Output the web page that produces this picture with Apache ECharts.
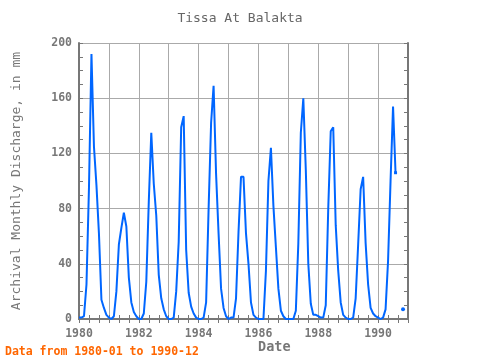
<!DOCTYPE html>
<html><head><meta charset="utf-8">
<script src="https://cdn.jsdelivr.net/npm/echarts@6/dist/echarts.min.js"></script>
<style>html,body{margin:0;padding:0;background:#fff}#c{width:480px;height:360px}</style>
</head><body><div id="c"></div>
<script>
const chartTitle = 'Tissa At Balakta';
const yAxisName = 'Archival Monthly Discharge, in mm';
const xAxisName = 'Date';
const footerText = 'Data from 1980-01 to 1990-12';

const years = [1980, 1981, 1982, 1983, 1984, 1985, 1986, 1987, 1988, 1989, 1990];
// monthly values Jan..Dec (null = missing)
const v1980 = [1, 1, 2, 25, 95, 192, 125, 97, 62, 14, 8, 3];
const v1981 = [1, 0, 2, 20, 54, 66, 77, 67, 30, 12, 5, 2];
const v1982 = [0, 0, 4, 27, 85, 135, 98, 75, 32, 15, 7, 2];
const v1983 = [0, 0, 1, 20, 56, 139, 147, 50, 19, 9, 4, 1];
const v1984 = [0, 0, 1, 12, 80, 142, 169, 105, 62, 22, 8, 2];
const v1985 = [0, 1, 1, 15, 63, 103, 103, 62, 40, 12, 3, 1];
const v1986 = [0, 0, 0, 35, 100, 124, 82, 52, 22, 6, 2, 0];
const v1987 = [0, 0, 0, 6, 55, 135, 160, 108, 40, 11, 3, 3];
const v1988 = [2, 1, 1, 10, 80, 136, 139, 68, 35, 12, 3, 1];
const v1989 = [0, 0, 1, 15, 54, 94, 103, 55, 25, 8, 4, 2];
const v1990 = [1, 0, 1, 7, 42, 100, 154, 106, null, null, 7, null];
const yearValues = [v1980, v1981, v1982, v1983, v1984, v1985, v1986, v1987, v1988, v1989, v1990];

const yTickValues = [0, 40, 80, 120, 160, 200];
const xLabelYears = [1980, 1982, 1984, 1986, 1988, 1990];

const flat = [];
years.forEach((yr, yi) => yearValues[yi].forEach((v, mi) => flat.push({ x: yr + mi / 12, v })));
const seriesData = flat.map((p, i) => {
  if (p.v == null) return [p.x, '-'];
  const prevNull = i === 0 ? false : flat[i - 1].v == null;
  const nextNull = i === flat.length - 1 ? true : flat[i + 1].v == null;
  if (prevNull && nextNull) {
    return { value: [p.x, p.v], symbol: 'circle', symbolSize: 4 };
  }
  if (nextNull && i > 0) {
    return { value: [p.x, p.v], symbol: 'rect', symbolSize: 3 };
  }
  return [p.x, p.v];
});

const FONT = 'DejaVu Sans Mono';
const frame = { show: true, lineStyle: { color: '#777', width: 2 } };
const tick = { show: true, inside: true, length: 4, lineStyle: { color: '#777', width: 1 } };
const minor = (n) => ({ show: true, splitNumber: n, length: 4, lineStyle: { color: '#777', width: 1 } });

const chart = echarts.init(document.getElementById('c'), null, { renderer: 'canvas' });
chart.setOption({
  animation: false,
  backgroundColor: '#fff',
  title: {
    text: chartTitle, left: 'center', top: 7,
    textStyle: { fontFamily: FONT, fontSize: 13, fontWeight: 'normal', color: '#666' }
  },
  grid: { left: 79, right: 72, top: 43, bottom: 41, outerBoundsMode: 'none', containLabel: false },
  xAxis: [{
    type: 'value', min: 1980, max: 1991, interval: 1, position: 'bottom',
    axisLine: frame, axisTick: tick, minorTick: minor(3),
    splitLine: { show: true, lineStyle: { color: '#aaa', width: 1 } },
    axisLabel: {
      margin: 9, color: '#777', fontFamily: FONT, fontSize: 11.5, fontWeight: 'bold',
      formatter: (v) => xLabelYears.includes(Math.round(v)) ? String(Math.round(v)) : ''
    }
  }, {
    type: 'value', min: 1980, max: 1991, interval: 1, position: 'top',
    axisLine: frame, axisTick: tick, minorTick: minor(3),
    splitLine: { show: false }, axisLabel: { show: false }
  }],
  yAxis: [{
    type: 'value', min: 0, max: 200, interval: 40, position: 'left',
    axisLine: frame, axisTick: tick, minorTick: minor(4),
    splitLine: { show: true, lineStyle: { color: '#aaa', width: 1 } },
    axisLabel: {
      margin: 7, color: '#777', fontFamily: FONT, fontSize: 11.5, fontWeight: 'bold',
      formatter: (v) => yTickValues.includes(v) ? String(v) : ''
    },
    name: yAxisName, nameLocation: 'middle', nameGap: 56, nameRotate: 90,
    nameTextStyle: { color: '#777', fontFamily: FONT, fontSize: 13, fontWeight: 'normal' }
  }, {
    type: 'value', min: 0, max: 200, interval: 40, position: 'right',
    axisLine: frame, axisTick: tick, minorTick: minor(4),
    splitLine: { show: false }, axisLabel: { show: false }
  }],
  graphic: [{
    type: 'text', left: 258, top: 340,
    style: { text: xAxisName, fill: '#777', font: 'bold 13.5px "DejaVu Sans Mono"' }
  }, {
    type: 'text', left: 5, top: 346,
    style: { text: footerText, fill: '#ff6600', font: 'bold 11.5px "DejaVu Sans Mono"' }
  }],
  series: [{
    type: 'line', xAxisIndex: 0, yAxisIndex: 0,
    data: seriesData, connectNulls: false,
    showSymbol: true, showAllSymbol: true, symbol: 'none',
    itemStyle: { color: '#0066ff' },
    lineStyle: { color: '#0066ff', width: 2 },
    clip: true
  }]
});
</script>
</body></html>
